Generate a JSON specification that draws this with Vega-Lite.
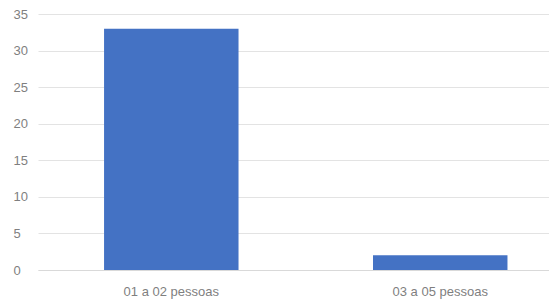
{
  "$schema": "https://vega.github.io/schema/vega-lite/v6.json",
  "autosize": "none",
  "width": 511,
  "height": 256,
  "padding": {"left": 38, "top": 14, "right": 0, "bottom": 30},
  "background": "white",
  "config": {"view": {"stroke": null}, "font": "Liberation Sans"},
  "data": {"values": [
    {"categoria": "01 a 02 pessoas", "valor": 33},
    {"categoria": "03 a 05 pessoas", "valor": 2}
  ]},
  "mark": {"type": "bar", "color": "#4472C4"},
  "encoding": {
    "x": {
      "field": "categoria", "type": "nominal", "sort": null,
      "scale": {"paddingInner": 0.5, "paddingOuter": 0.2, "align": 0.614},
      "axis": {"title": null, "labelAngle": 0, "ticks": false, "domain": true, "domainColor": "#d9d9d9",
        "labelFontSize": 13, "labelColor": "#7f7f7f", "labelPadding": 15}
    },
    "y": {
      "field": "valor", "type": "quantitative",
      "scale": {"domain": [0, 35]},
      "axis": {"title": null, "values": [0, 5, 10, 15, 20, 25, 30, 35], "ticks": false, "domain": false,
        "gridColor": "#e3e3e3", "labelFontSize": 13, "labelColor": "#7f7f7f", "labelAlign": "left", "labelPadding": 25}
    }
  }
}
